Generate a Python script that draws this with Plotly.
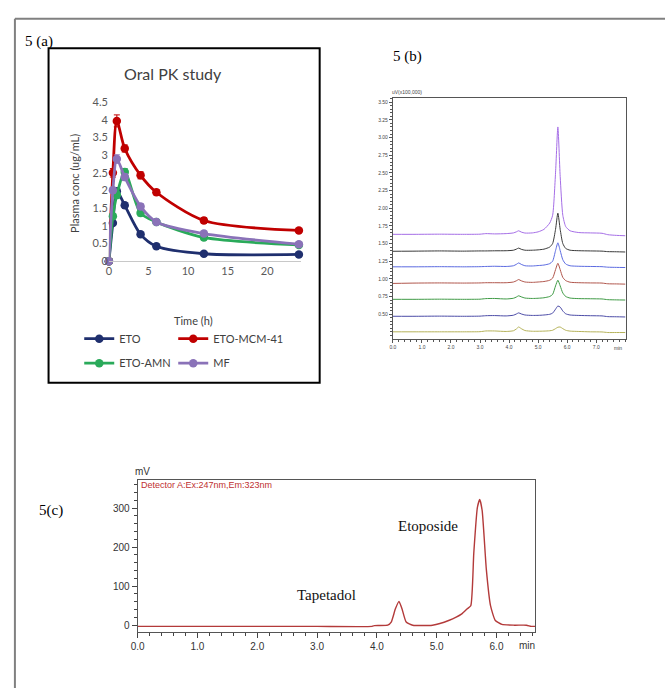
import plotly.graph_objects as go

W, H = 665, 694

# ---------------- Panel (a): Oral PK study ----------------
TIME_H = [0, 0.5, 1, 2, 4, 6, 12, 24]
ETO = [0, 1.08, 1.98, 1.58, 0.76, 0.42, 0.21, 0.19]
ETO_ERR = [0, 0.05, 0.08, 0.06, 0.05, 0.04, 0.05, 0.04]
ETO_MCM41 = [0, 2.50, 3.97, 3.19, 2.43, 1.95, 1.15, 0.87]
ETO_MCM41_ERR = [0, 0.12, 0.17, 0.10, 0.10, 0.07, 0.08, 0.06]
ETO_AMN = [0, 1.27, 1.87, 2.52, 1.36, 1.11, 0.67, 0.46]
ETO_AMN_ERR = [0, 0.08, 0.10, 0.10, 0.08, 0.06, 0.07, 0.05]
MF = [0, 2.01, 2.89, 2.38, 1.55, 1.11, 0.78, 0.48]
MF_ERR = [0, 0.08, 0.12, 0.10, 0.08, 0.06, 0.07, 0.05]
PK_NAMES = ["ETO", "ETO-MCM-41", "ETO-AMN", "MF"]
PK_COLORS = ["#1f2f6e", "#c00000", "#2aaa5a", "#8a72b8"]
PK_XTICKS = [0, 5, 10, 15, 20]
PK_YTICKS = [0, 0.5, 1, 1.5, 2, 2.5, 3, 3.5, 4, 4.5]

# ---------------- Panel (b): overlaid chromatograms ----------------
T_B = [0.0, 0.8, 1.6, 2.4, 3.0, 3.2, 3.5, 3.9, 4.15, 4.25, 4.33, 4.42, 4.55, 4.8,
       5.0, 5.2, 5.4, 5.5, 5.6, 5.68, 5.76, 5.85, 5.95, 6.1, 6.4, 6.8, 7.2, 7.4, 7.7, 8.0]
B_VIOLET = [1.630, 1.630, 1.632, 1.630, 1.632, 1.640, 1.636, 1.640, 1.650, 1.665, 1.680, 1.662,
            1.648, 1.650, 1.665, 1.700, 1.790, 1.900, 2.500, 3.150, 2.450, 1.900, 1.740, 1.680,
            1.655, 1.650, 1.645, 1.625, 1.615, 1.610]
B_BLACK = [1.390, 1.392, 1.395, 1.392, 1.395, 1.395, 1.397, 1.398, 1.405, 1.420, 1.435, 1.418,
           1.405, 1.405, 1.410, 1.420, 1.450, 1.500, 1.700, 1.930, 1.700, 1.500, 1.430, 1.405,
           1.398, 1.395, 1.392, 1.385, 1.383, 1.380]
B_BLUE = [1.170, 1.170, 1.172, 1.170, 1.172, 1.175, 1.178, 1.175, 1.185, 1.205, 1.225, 1.205,
          1.185, 1.182, 1.188, 1.195, 1.215, 1.250, 1.400, 1.510, 1.400, 1.270, 1.210, 1.185,
          1.178, 1.175, 1.172, 1.165, 1.162, 1.160]
B_RED = [0.935, 0.940, 0.942, 0.940, 0.942, 0.945, 0.945, 0.945, 0.955, 0.972, 0.990, 0.972,
         0.955, 0.950, 0.955, 0.962, 0.980, 1.010, 1.130, 1.220, 1.130, 1.020, 0.975, 0.952,
         0.945, 0.942, 0.940, 0.930, 0.928, 0.925]
B_GREEN = [0.710, 0.710, 0.712, 0.710, 0.712, 0.720, 0.722, 0.715, 0.725, 0.742, 0.760, 0.745,
           0.728, 0.722, 0.725, 0.732, 0.750, 0.780, 0.900, 0.980, 0.900, 0.800, 0.750, 0.728,
           0.720, 0.718, 0.715, 0.705, 0.702, 0.700]
B_NAVY = [0.470, 0.470, 0.472, 0.470, 0.472, 0.478, 0.480, 0.475, 0.485, 0.502, 0.518, 0.503,
          0.488, 0.482, 0.483, 0.488, 0.498, 0.515, 0.570, 0.615, 0.600, 0.545, 0.505, 0.488,
          0.482, 0.478, 0.475, 0.465, 0.463, 0.460]
B_OLIVE = [0.250, 0.250, 0.250, 0.250, 0.252, 0.262, 0.262, 0.255, 0.265, 0.290, 0.318, 0.295,
           0.268, 0.258, 0.258, 0.260, 0.265, 0.272, 0.295, 0.315, 0.318, 0.295, 0.272, 0.260,
           0.255, 0.250, 0.248, 0.240, 0.240, 0.240]
B_SERIES = [B_VIOLET, B_BLACK, B_BLUE, B_RED, B_GREEN, B_NAVY, B_OLIVE]
B_COLORS = ["#a56ee6", "#3a3a3a", "#5b6ae0", "#b0564c", "#3f9a45", "#4b4ba6", "#b5b25a"]
B_XTICKS = [0, 1, 2, 3, 4, 5, 6, 7]
B_YTICKS = [0.50, 0.75, 1.00, 1.25, 1.50, 1.75, 2.00, 2.25, 2.50, 2.75, 3.00, 3.25, 3.50]

# ---------------- Panel (c): single chromatogram ----------------
T_C = [0.0, 1.0, 2.0, 3.0, 3.92, 3.96, 4.18, 4.24, 4.31, 4.37, 4.42, 4.49, 4.6, 4.93, 5.2,
       5.42, 5.51, 5.57, 5.62, 5.68, 5.72, 5.76, 5.83, 5.9, 5.98, 6.09, 6.3, 6.5, 6.58, 6.65]
MV_C = [-3, -3, -3, -3, -3, -1, 0, 8, 42, 61, 42, 8, 0, 0, 12,
        29, 42, 50, 184, 301, 322, 294, 143, 50, 12, 2, 0, 0, -3, -3]
C_XTICKS = [0, 1, 2, 3, 4, 5, 6]
C_YTICKS = [0, 100, 200, 300]


def px(x):
    return x / W


def py(y):
    return 1 - y / H


fig = go.Figure()

pk_vals = [ETO, ETO_MCM41, ETO_AMN, MF]
pk_errs = [ETO_ERR, ETO_MCM41_ERR, ETO_AMN_ERR, MF_ERR]
for i, (name, vals, errs, col) in enumerate(zip(PK_NAMES, pk_vals, pk_errs, PK_COLORS)):
    fig.add_trace(go.Scatter(
        x=TIME_H, y=vals, name=name, mode="lines+markers",
        line=dict(color=col, width=2.8, shape="spline", smoothing=0.8),
        marker=dict(color=col, size=8.5),
        error_y=dict(type="data", array=errs, visible=True, color=col, thickness=1, width=3),
        xaxis="x", yaxis="y", cliponaxis=False,
        legend="legend" if i == 0 else f"legend{i + 1}",
    ))

for vals, col in zip(B_SERIES, B_COLORS):
    fig.add_trace(go.Scatter(
        x=T_B, y=vals, mode="lines", showlegend=False,
        line=dict(color=col, width=1, shape="spline", smoothing=0.6),
        xaxis="x2", yaxis="y2", hoverinfo="skip",
    ))

fig.add_trace(go.Scatter(
    x=T_C, y=MV_C, mode="lines", showlegend=False,
    line=dict(color="#b33a3a", width=1.4, shape="spline", smoothing=0.5),
    xaxis="x3", yaxis="y3",
))

font_a = "Lato, Open Sans, sans-serif"
font_arial = "Liberation Sans, Arial, sans-serif"
font_serif = "Liberation Serif, Times New Roman, serif"

legend_pos = [(73, 338), (168, 338), (73, 363), (168, 363)]
legend_layout = {}
for i, (lx, ly) in enumerate(legend_pos):
    key = "legend" if i == 0 else f"legend{i + 1}"
    legend_layout[key] = dict(
        x=px(lx), y=py(ly), xanchor="left", yanchor="middle",
        bgcolor="rgba(0,0,0,0)", borderwidth=0, itemwidth=30,
        font=dict(family=font_a, size=11, color="#404040"),
        orientation="h",
    )

fig.update_layout(
    width=W, height=H, margin=dict(l=0, r=0, t=0, b=0),
    paper_bgcolor="white", plot_bgcolor="white",
    **legend_layout,
    xaxis=dict(
        domain=[px(103), px(297)], range=[0, 24.25], anchor="y",
        tickvals=PK_XTICKS, showgrid=False, zeroline=False,
        showline=True, linecolor="#c8c8c8", linewidth=1, ticks="",
        tickfont=dict(family=font_a, size=11, color="#595959"),
    ),
    yaxis=dict(
        domain=[py(259), py(97)], range=[0, 4.5], anchor="x",
        tickvals=PK_YTICKS, showgrid=False, zeroline=False, showline=False,
        ticks="", tickfont=dict(family=font_a, size=11, color="#595959"),
    ),
    xaxis2=dict(
        domain=[px(390), px(626)], range=[0, 8.04], anchor="y2",
        tickvals=B_XTICKS, tickformat=".1f", showgrid=False, zeroline=False,
        showline=True, mirror=True, linecolor="#555555", linewidth=1,
        ticks="outside", ticklen=3, tickcolor="#555555",
        minor=dict(dtick=0.2, ticklen=2, tickcolor="#555555", ticks="outside"),
        tickfont=dict(family=font_arial, size=5, color="#444444"),
    ),
    yaxis2=dict(
        domain=[py(338), py(93)], range=[0.153, 3.556], anchor="x2",
        tickvals=B_YTICKS, tickformat=".2f", showgrid=False, zeroline=False,
        showline=True, mirror=True, linecolor="#555555", linewidth=1,
        ticks="outside", ticklen=3, tickcolor="#555555",
        minor=dict(dtick=0.05, ticklen=2, tickcolor="#555555", ticks="outside"),
        tickfont=dict(family=font_arial, size=5, color="#444444"),
    ),
    xaxis3=dict(
        domain=[px(132), px(534)], range=[0, 6.65], anchor="y3",
        tickvals=C_XTICKS, tickformat=".1f", showgrid=False, zeroline=False,
        showline=True, mirror=True, linecolor="#555555", linewidth=1,
        ticks="outside", ticklen=5, tickcolor="#444444",
        minor=dict(dtick=0.2, ticklen=3, tickcolor="#444444", ticks="outside"),
        tickfont=dict(family=font_arial, size=10, color="#333333"),
    ),
    yaxis3=dict(
        domain=[py(637), py(482)], range=[-17.6, 372], anchor="x3",
        tickvals=C_YTICKS, showgrid=False, zeroline=False,
        showline=True, mirror=True, linecolor="#555555", linewidth=1,
        ticks="outside", ticklen=5, tickcolor="#444444",
        minor=dict(dtick=20, ticklen=3, tickcolor="#444444", ticks="outside"),
        tickfont=dict(family=font_arial, size=10, color="#333333"),
    ),
)

shapes = [
    dict(type="line", xref="paper", yref="paper", x0=px(8), x1=px(665), y0=py(12), y1=py(12),
         line=dict(color="#808080", width=2)),
    dict(type="line", xref="paper", yref="paper", x0=px(8), x1=px(8), y0=py(12), y1=py(694),
         line=dict(color="#808080", width=2)),
    dict(type="rect", xref="paper", yref="paper", x0=px(42), x1=px(316), y0=py(42), y1=py(383),
         line=dict(color="#000000", width=2)),
]
fig.update_layout(shapes=shapes)


def ann(text, x, y, size, family, color="#000000", xanchor="center", angle=0):
    return dict(text=text, x=px(x), y=py(y), xref="paper", yref="paper", showarrow=False,
                xanchor=xanchor, yanchor="middle", textangle=angle,
                font=dict(family=family, size=size, color=color))


annotations = [
    ann("5 (a)", 32, 35, 15, font_serif),
    ann("5 (b)", 405, 50, 15, font_serif),
    ann("5(c)", 44, 513, 15, font_serif),
    ann("Oral PK study", 168, 68, 16, font_a, "#404040"),
    ann("Plasma conc (ug/mL)", 68, 180, 11, font_a, "#404040", angle=-90),
    ann("Time (h)", 188, 319, 11, font_a, "#404040"),
    ann("uV(x100,000)", 387, 87, 5, font_arial, "#444444", xanchor="left"),
    ann("min", 617, 347, 5, font_arial, "#444444"),
    ann("mV", 137, 473, 10, font_arial, "#333333"),
    ann("Detector A:Ex:247nm,Em:323nm", 133, 487, 9, font_arial, "#c03030", xanchor="left"),
    ann("Tapetadol", 323, 599, 15, font_serif, "#111111"),
    ann("Etoposide", 425, 529, 15, font_serif, "#111111"),
    ann("min", 526, 651, 10, font_arial, "#333333"),
]
fig.update_layout(annotations=annotations)

fig.write_html(
    "out.html",
    config={"displayModeBar": False},
    post_script="document.body.style.margin='0';document.body.style.overflow='hidden';"
                "document.documentElement.style.overflow='hidden';",
)
